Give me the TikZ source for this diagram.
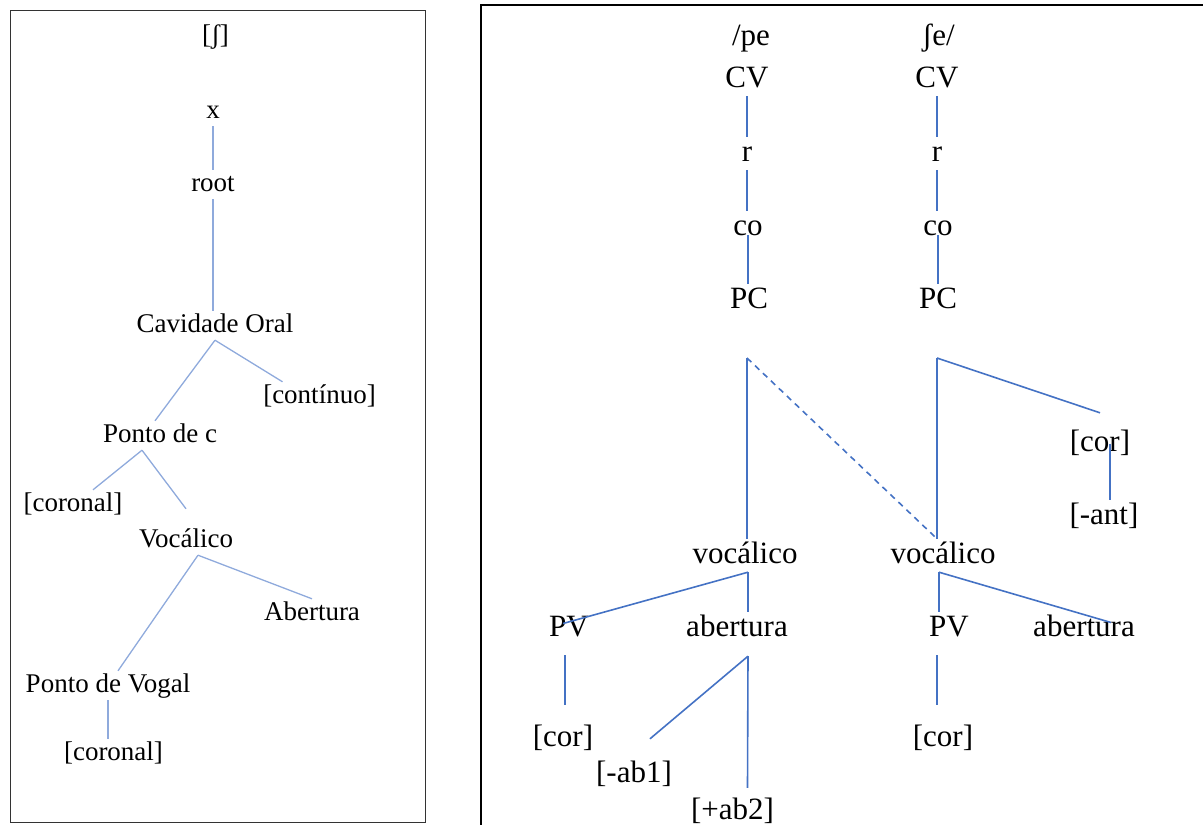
\documentclass[tikz,border=0pt]{standalone}
\usepackage{fontspec}
\setmainfont{Liberation Serif}
\usepackage{xcolor}
\usepackage{tikz}
\usetikzlibrary{positioning,calc}
\definecolor{treeblue}{HTML}{4472C4}
\definecolor{paleblue}{HTML}{8FAADC}

\begin{document}
\begin{tikzpicture}[x=1pt,y=-1pt,
  lnode/.style={inner sep=3pt,text height=18pt,text depth=5pt,font=\fontsize{27}{30}\selectfont},
  rnode/.style={inner sep=3pt,text height=21pt,text depth=6pt,font=\fontsize{31}{34}\selectfont},
  lline/.style={paleblue,line width=1.3pt},
  rline/.style={treeblue,line width=1.6pt}]
 \useasboundingbox (0,0) rectangle (1203,825);
 % frames
 \draw[line width=1pt,black!80] (10,10) rectangle (425,822);
 \draw[line width=1.5pt] (481,830) -- (481,5) -- (1210,5);

 % left tree
 \node[lnode] (sh) at (215.5,36.5) {[ʃ]};
 \node[lnode] (xn) at (213,111.5) {x};
 \node[lnode] (root) at (213,184.5) {root};
 \node[lnode] (cav) at (215,325.5) {Cavidade Oral};
 \node[lnode] (cont) at (319.5,396.5) {[contínuo]};
 \node[lnode] (pc) at (160,435.5) {Ponto de c};
 \node[lnode] (cor) at (73,504.5) {[coronal]};
 \node[lnode] (voc) at (186,540.5) {Vocálico};
 \node[lnode] (ab) at (312,613.5) {Abertura};
 \node[lnode] (pvog) at (108,685.5) {Ponto de Vogal};
 \node[lnode] (corb) at (113.5,753.5) {[coronal]};

 \draw[lline] (xn.south) -- (xn.south |- root.north);
 \draw[lline] (root.south) -- (root.south |- cav.north);
 \draw[lline] (cav.south) -- ([xshift=-5pt]pc.north);
 \draw[lline] (cav.south) -- ([xshift=-37pt]cont.north);
 \draw[lline] ([xshift=-18pt]pc.south) -- ([xshift=20pt]cor.north);
 \draw[lline] ([xshift=-18pt]pc.south) -- ([yshift=17pt]voc.north);
 \draw[lline] ([xshift=12pt]voc.south) -- ([xshift=10pt]pvog.north);
 \draw[lline] ([xshift=12pt]voc.south) -- (ab.north);
 \draw[lline] (pvog.south) -- (pvog.south |- corb.north);

 % right tree
 \node[rnode] (pe) at (751,37.5) {/pe};
 \node[rnode] (she) at (938.5,37.5) {ʃe/};
 \node[rnode] (cv1) at (747,79.5) {CV};
 \node[rnode] (cv2) at (937,79.5) {CV};
 \node[rnode] (r1) at (747,153.5) {r};
 \node[rnode] (r2) at (937,153.5) {r};
 \node[rnode] (co1) at (748,227.5) {co};
 \node[rnode] (co2) at (938,227.5) {co};
 \node[rnode] (pc1) at (749,300.5) {PC};
 \node[rnode] (pc2) at (938,300.5) {PC};
 \node[rnode] (corA) at (1100,443.5) {[cor]};
 \node[rnode] (ant) at (1104,516.5) {[-ant]};
 \node[rnode] (voc1) at (745,555.5) {vocálico};
 \node[rnode] (voc2) at (943,555.5) {vocálico};
 \node[rnode] (pv1) at (569,628.5) {PV};
 \node[rnode] (ab1) at (737,628.5) {abertura};
 \node[rnode] (pv2) at (949,628.5) {PV};
 \node[rnode] (ab2) at (1084,628.5) {abertura};
 \node[rnode] (cor1) at (563,738.5) {[cor]};
 \node[rnode] (mab) at (634,774.5) {[-ab1]};
 \node[rnode] (pab) at (732.5,811.5) {[+ab2]};
 \node[rnode] (cor2) at (943,738.5) {[cor]};

 \draw[rline] (cv1.south) -- (cv1.south |- r1.north);
 \draw[rline] (r1.south) -- (r1.south |- co1.north);
 \draw[rline] (co1.base) -- (co1.base |- pc1.north);
 \draw[rline] (cv2.south) -- (cv2.south |- r2.north);
 \draw[rline] (r2.south) -- (r2.south |- co2.north);
 \draw[rline] (co2.base) -- (co2.base |- pc2.north);

 \coordinate (f1) at (747,358);
 \coordinate (f2) at (937,358);
 \draw[rline] (f1) -- (f1 |- voc1.north);
 \draw[rline,dash pattern=on 6pt off 5pt] (f1) -- (f2 |- voc2.north);
 \draw[rline] (f2) -- (f2 |- voc2.north);
 \draw[rline] (f2) -- ([yshift=14pt]corA.north);
 \draw[rline] ([xshift=10pt]corA.center) -- ([xshift=10pt]corA.center |- ant.north);

 \draw[rline] ([xshift=3pt]voc1.south) -- ([xshift=-6pt,yshift=5pt]pv1.center);
 \draw[rline] ([xshift=3pt]voc1.south) -- ([xshift=3pt]voc1.south |- ab1.north);
 \draw[rline] ([xshift=-4pt]voc2.south) -- ([xshift=-4pt]voc2.south |- pv2.north);
 \draw[rline] ([xshift=-4pt]voc2.south) -- ([xshift=27pt,yshift=6pt]ab2.center);

 \draw[rline,shorten <=10pt,shorten >=17pt] ([xshift=-4pt]pv1.south) -- ([xshift=-4pt]pv1.south |- cor1.north);
 \coordinate (abfork) at ([xshift=11pt,yshift=-11pt]ab1.south);
 \draw[rline] (abfork) -- ([xshift=16pt,yshift=19pt]mab.north);
 \draw[rline] (abfork) -- ([xshift=15pt,yshift=7pt]pab.north);
 \draw[rline,shorten <=10pt,shorten >=17pt] ([xshift=-12pt]pv2.south) -- ([xshift=-12pt]pv2.south |- cor2.north);
\end{tikzpicture}
\end{document}
